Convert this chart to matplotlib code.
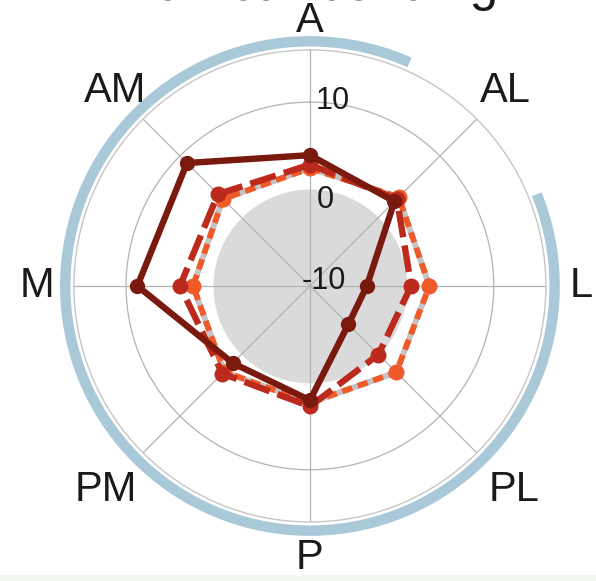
import numpy as np
import matplotlib
matplotlib.use("Agg")
import matplotlib.pyplot as plt

plt.rcParams['font.family'] = ['Liberation Sans', 'DejaVu Sans']

# Directions, clockwise from the top
directions = ['A', 'AL', 'L', 'PL', 'P', 'PM', 'M', 'AM']
angles_deg = [0, 45, 90, 135, 180, 225, 270, 315]

# Series values per direction
series_dark = [3.9, 2.6, -4.6, -4.9, 2.0, 1.4, 8.7, 8.85]
series_red = [2.8, 3.0, 0.5, 0.0, 2.7, 3.1, 3.8, 3.8]
series_orange = [2.4, 3.3, 2.6, 2.9, 2.3, 2.8, 2.3, 3.0]

radial_ticks = [-10, 0, 10]
radial_tick_labels = ['-10', '0', '10']

title = 'Lumbar bending'

R_MIN, R_MAX = -11.15, 16.0

fig = plt.figure(figsize=(5.96, 5.81), dpi=100)
ax = fig.add_axes([0.124, 0.1016, 0.792, 0.8124], projection='polar')
ax.set_theta_zero_location('N')
ax.set_theta_direction(-1)
ax.set_ylim(R_MIN, R_MAX)
ax.grid(False)
ax.set_xticks([])
ax.set_yticks([])
ax.spines['polar'].set_color('#c6c6c6')
ax.spines['polar'].set_linewidth(1.0)

theta_full = np.linspace(0, 2 * np.pi, 400)
# grey disc for negative values
ax.fill_between(theta_full, R_MIN, 0, color='#dadada', lw=0, zorder=0)

# spokes and ring
grid_c = '#b3b3b3'
for a in angles_deg:
    t = np.deg2rad(a)
    ax.plot([t, t], [R_MIN, R_MAX], color=grid_c, lw=0.9, zorder=1)
ax.plot(theta_full, np.full_like(theta_full, 10.0), color=grid_c, lw=0.9, zorder=1)

# blue arc outside the plot
arc_t = np.deg2rad(np.linspace(68, 360 + 24, 300))
ax.plot(arc_t, np.full_like(arc_t, 17.0), color='#a9c8d8', lw=7.5,
        solid_capstyle='butt', clip_on=False, zorder=1)

theta = np.deg2rad(angles_deg + [angles_deg[0]])

def closed(vals):
    return list(vals) + [vals[0]]

# orange series with grey under-stroke
ax.plot(theta, closed(series_orange), color='#c4c4c4', lw=4.2, zorder=2)
ax.plot(theta, closed(series_orange), color='#ef5a28', lw=4.2,
        dashes=(1.8, 1.0), zorder=3)
ax.plot(theta[:-1], series_orange, 'o', color='#ef5a28', ms=10.5, zorder=3)

# red dashed series
ax.plot(theta, closed(series_red), color='#bb2a1c', lw=4.6,
        dashes=(4.2, 1.3), zorder=4)
ax.plot(theta[:-1], series_red, 'o', color='#bb2a1c', ms=10.5, zorder=4)

# dark solid series
ax.plot(theta, closed(series_dark), color='#7a1a0f', lw=4.6, zorder=5)
ax.plot(theta[:-1], series_dark, 'o', color='#7a1a0f', ms=10, zorder=5)

# direction labels
label_r = [19.3, 20.6, 20.0, 22.0, 20.2, 22.0, 20.3, 20.6]
for a, lab, r in zip(angles_deg, directions, label_r):
    ax.text(np.deg2rad(a), r, lab, ha='center', va='center', fontsize=30,
            color='#1a1a1a', clip_on=False)

# radial labels
offsets = {'-10': (14, -5), '0': (15, -11), '10': (23, 1)}
for v, lab in zip(radial_ticks, radial_tick_labels):
    dx, dy = offsets[lab]
    ax.annotate(lab, xy=(0, v), xytext=(dx, dy), textcoords='offset pixels',
                ha='center', va='center', fontsize=22, color='#1a1a1a',
                zorder=6)

fig.text(0.525, 1.0, title, ha='center', va='baseline', fontsize=37,
         color='#1a1a1a')

fig.patches.append(plt.Rectangle((0, 0), 1, 6 / 581, transform=fig.transFigure,
                                 color='#f2f8ee', lw=0, zorder=0))

fig.savefig('out.png', dpi=100)
